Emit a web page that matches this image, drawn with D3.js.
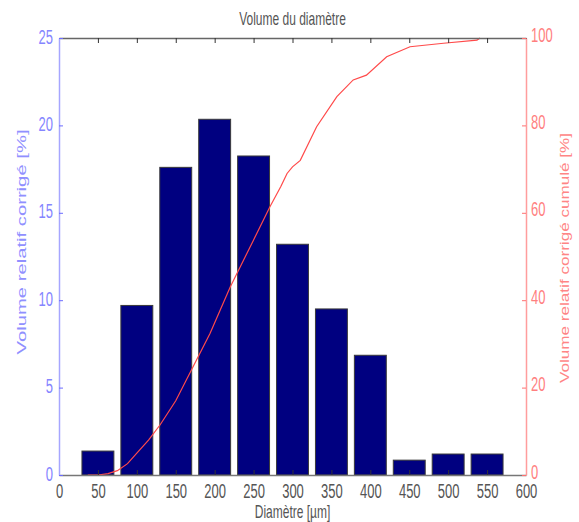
<!DOCTYPE html>
<html>
<head>
<meta charset="utf-8">
<script src="https://cdn.jsdelivr.net/npm/d3@7"></script>
<style>
  body { margin: 0; background: #fff; }
  text { font-family: "Liberation Sans", Arial, sans-serif; }
</style>
</head>
<body>
<div id="chart"></div>
<script>
// bar centres (µm) and relative volume per class (%)
const diameters = [50, 100, 150, 200, 250, 300, 350, 400, 450, 500, 550];
const volume = [1.37, 9.7, 17.6, 20.35, 18.25, 13.2, 9.5, 6.85, 0.85, 1.2, 1.2];

// cumulative curve
const cumDiam = [37, 50, 63, 75, 88, 100, 115, 130, 150, 168, 194, 220, 250, 271, 285, 293, 300, 310, 331, 357, 378, 395, 421, 451, 494, 537, 541];
const cumValue = [0, 0, 0.3, 1, 2.6, 5, 8, 11.5, 17, 23.3, 32.4, 43, 53.8, 61.4, 66, 69, 70.5, 72, 79.7, 86.6, 90.4, 91.5, 95.7, 98, 98.8, 99.5, 100];

const xTicks = [0, 50, 100, 150, 200, 250, 300, 350, 400, 450, 500, 550, 600];
const leftTicks = [0, 5, 10, 15, 20, 25];
const rightTicks = [0, 20, 40, 60, 80, 100];

const width = 579, height = 522;
const mLeft = 59, mRight = 526, mTop = 38, mBottom = 475;
const stretch = 1.5; // the picture is stretched vertically

const svg = d3.select('#chart')
  .append('svg')
    .attr('width', width)
    .attr('height', height);

const x = d3.scaleLinear().domain([0, 600]).range([mLeft, mRight]);
const yL = d3.scaleLinear().domain([0, 25]).range([mBottom, mTop]);
const yR = d3.scaleLinear().domain([0, 100]).range([mBottom, mTop]);

// bars
svg.append('g')
  .selectAll('rect')
  .data(diameters)
  .join('rect')
    .attr('x', (d) => x(d - 20.5))
    .attr('width', (d) => x(d + 20.5) - x(d - 20.5))
    .attr('y', (d, i) => yL(volume[i]))
    .attr('height', (d, i) => yL(0) - yL(volume[i]))
    .attr('fill', '#000080')
    .attr('stroke', '#3a3a3a')
    .attr('stroke-width', 1);

// cumulative line
const pts = cumDiam.map((d, i) => [d, cumValue[i]]);
svg.append('path')
  .datum(pts)
  .attr('fill', 'none')
  .attr('stroke', '#ff4a4a')
  .attr('stroke-width', 1.2)
  .attr('d', d3.line().x((d) => x(d[0])).y((d) => yR(d[1])));

// bottom axis (ticks inward)
const gb = svg.append('g')
  .attr('transform', 'translate(0,' + mBottom + ')')
  .call(d3.axisBottom(x).tickValues(xTicks).tickSize(-5).tickSizeOuter(0));
gb.select('.domain').attr('stroke', '#777').attr('stroke-width', 1.5);
gb.selectAll('.tick line').attr('stroke', '#333');
gb.selectAll('.tick text')
  .attr('y', 0).attr('dy', 0)
  .attr('transform', 'translate(0,23) scale(1,' + stretch + ')')
  .attr('font-size', 13)
  .attr('fill', '#555');

// top axis
const gt = svg.append('g')
  .attr('transform', 'translate(0,' + mTop + ')')
  .call(d3.axisTop(x).tickValues(xTicks).tickSize(-5).tickSizeOuter(0).tickFormat(''));
gt.select('.domain').attr('stroke', '#666').attr('stroke-width', 1.5);
gt.selectAll('.tick line').attr('stroke', '#333');

// left axis
const gl = svg.append('g')
  .attr('transform', 'translate(' + mLeft + ',0)')
  .call(d3.axisLeft(yL).tickValues(leftTicks).tickSize(-4).tickSizeOuter(0));
gl.select('.domain').attr('stroke', '#a6a6ff').attr('stroke-width', 1.5);
gl.selectAll('.tick line').attr('stroke', '#6c6cff');
gl.selectAll('.tick text')
  .attr('x', 0).attr('dy', 0)
  .attr('transform', 'translate(-6,5) scale(1,' + stretch + ')')
  .attr('font-size', 13)
  .attr('fill', '#8585ff');

// right axis
const gr = svg.append('g')
  .attr('transform', 'translate(' + mRight + ',0)')
  .call(d3.axisRight(yR).tickValues(rightTicks).tickSize(-4).tickSizeOuter(0));
gr.select('.domain').attr('stroke', '#ff9d9d').attr('stroke-width', 1.5);
gr.selectAll('.tick line').attr('stroke', '#ff7070');
gr.selectAll('.tick text')
  .attr('x', 0).attr('dy', 0)
  .attr('transform', 'translate(5,3) scale(1,' + stretch + ')')
  .attr('font-size', 13)
  .attr('fill', '#ff7f7f');

// title and axis labels
svg.append('text')
  .attr('transform', 'translate(' + (mLeft + mRight) / 2 + ',25) scale(1,' + stretch + ')')
  .attr('text-anchor', 'middle')
  .attr('font-size', 12)
  .attr('fill', '#555')
  .text('Volume du diamètre');

svg.append('text')
  .attr('transform', 'translate(' + (mLeft + mRight) / 2 + ',518) scale(1,' + stretch + ')')
  .attr('text-anchor', 'middle')
  .attr('font-size', 12)
  .attr('fill', '#555')
  .text('Diamètre [µm]');

svg.append('text')
  .attr('transform', 'translate(26,242) rotate(-90) scale(' + stretch + ',1)')
  .attr('text-anchor', 'middle')
  .attr('font-size', 12)
  .attr('textLength', 225 / stretch)
  .attr('lengthAdjust', 'spacingAndGlyphs')
  .attr('fill', '#9090ff')
  .text('Volume relatif corrigé [%]');

svg.append('text')
  .attr('transform', 'translate(569,258) rotate(-90) scale(' + stretch + ',1)')
  .attr('text-anchor', 'middle')
  .attr('font-size', 12)
  .attr('textLength', 250 / stretch)
  .attr('lengthAdjust', 'spacingAndGlyphs')
  .attr('fill', '#ff8585')
  .text('Volume relatif corrigé cumulé [%]');
</script>
</body>
</html>
